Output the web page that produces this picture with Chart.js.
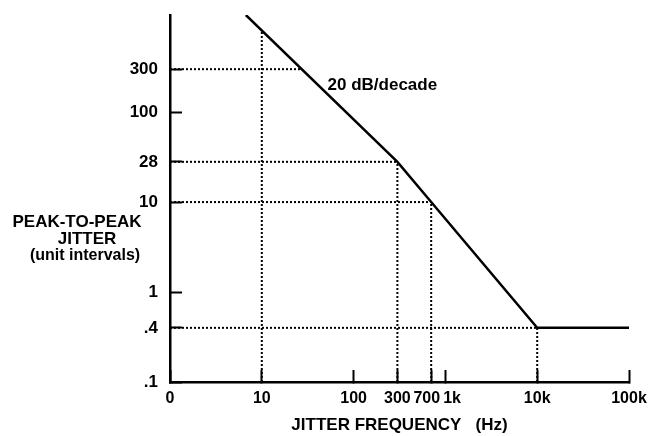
<!DOCTYPE html>
<html>
<head>
<meta charset="utf-8">
<title>Jitter tolerance</title>
<script src="https://cdn.jsdelivr.net/npm/chart.js@4.4.1/dist/chart.umd.min.js"></script>
<style>
  html, body { margin: 0; padding: 0; background: #fff; }
  #wrap { width: 654px; height: 436px; }
</style>
</head>
<body>
<div id="wrap"><canvas id="jitterChart" width="654" height="436"></canvas></div>
<script>
// axis ticks
const xTickValues = [1, 10, 100, 300, 700, 1000, 10000, 100000];
const xTickLabels = ['0', '10', '100', '300', '700  ', '   1k', '10k', '100k'];
const yTickValues = [0.1, 0.4, 1, 10, 28, 100, 300];
const yTickLabels = ['.1', '.4', '1', '10', '28', '100', '300'];

// tolerance mask (Hz, UI p-p)
const maskFreq = [6.7, 300, 700, 10000, 100000];
const maskJitter = [1200, 28, 10, 0.4, 0.4];

// dotted guides: horizontal levels and where they hit the mask
const guideJitter = [300, 28, 10, 0.4];
const guideJitterEnd = [27, 300, 700, 10000];
// dotted guides: vertical frequencies and where they hit the mask
const guideFreq = [10, 300, 700, 10000];
const guideFreqTop = [800, 28, 10, 0.4];

const slopeLabel = '20 dB/decade';
const yTitle = ['PEAK-TO-PEAK', 'JITTER', '(unit intervals)'];
const xTitle = 'JITTER FREQUENCY   (Hz)';

const FONT = "'Liberation Sans', Arial, sans-serif";

const datasets = [{
    data: maskFreq.map((f, i) => ({ x: f, y: maskJitter[i] })),
    borderColor: '#000',
    borderWidth: 2.5,
    showLine: true,
    pointRadius: 0
}];

guideJitter.forEach((v, i) => {
    datasets.push({
        data: [{ x: 1, y: v }, { x: guideJitterEnd[i], y: v }],
        borderColor: '#000',
        borderWidth: 2,
        borderDash: [2, 2],
        showLine: true,
        pointRadius: 0
    });
});
guideFreq.forEach((f, i) => {
    datasets.push({
        data: [{ x: f, y: 0.1 }, { x: f, y: guideFreqTop[i] }],
        borderColor: '#000',
        borderWidth: 2,
        borderDash: [2, 2],
        showLine: true,
        pointRadius: 0
    });
});

const extraText = {
    id: 'extraText',
    afterDraw(chart) {
        const c = chart.ctx;
        const xs = chart.scales.x, ys = chart.scales.y;
        c.save();
        c.fillStyle = '#000';
        c.textBaseline = 'middle';
        c.textAlign = 'center';
        c.font = 'bold 17px ' + FONT;
        c.fillText(yTitle[0], 77, 222);
        c.fillText(yTitle[1], 87, 239);
        c.font = 'bold 16px ' + FONT;
        c.fillText(yTitle[2], 85, 256);
        c.textAlign = 'left';
        c.font = 'bold 17px ' + FONT;
        c.fillText(slopeLabel, xs.getPixelForValue(52), ys.getPixelForValue(200));
        c.restore();
    }
};

const config = {
    type: 'scatter',
    data: { datasets: datasets },
    options: {
        responsive: false,
        animation: false,
        layout: { padding: { top: 15, right: 25, left: 0, bottom: 0 } },
        scales: {
            x: {
                type: 'logarithmic',
                position: 'bottom',
                min: 1,
                max: 100000,
                afterBuildTicks: (scale) => {
                    scale.ticks = xTickValues.map(v => ({ value: v }));
                },
                afterFit: (scale) => {
                    scale.height = 54;
                    scale.paddingLeft = 0;
                    scale.paddingRight = 0;
                },
                border: { display: true, color: '#000', width: 2.5 },
                grid: {
                    display: true,
                    drawOnChartArea: false,
                    drawTicks: true,
                    tickLength: -12,
                    tickColor: '#000',
                    tickWidth: 2
                },
                ticks: {
                    autoSkip: false,
                    maxRotation: 0,
                    color: '#000',
                    padding: 19,
                    font: { family: FONT, size: 16, weight: 'bold' },
                    callback: (value, index) => xTickLabels[index]
                },
                title: {
                    display: true,
                    text: xTitle,
                    color: '#000',
                    font: { family: FONT, size: 17, weight: 'bold' },
                    padding: { top: 0, bottom: 0 }
                }
            },
            y: {
                type: 'logarithmic',
                position: 'left',
                min: 0.1,
                max: 1200,
                afterBuildTicks: (scale) => {
                    scale.ticks = yTickValues.map(v => ({ value: v }));
                },
                afterFit: (scale) => {
                    scale.width = 170;
                    scale.paddingTop = 0;
                    scale.paddingBottom = 0;
                },
                border: { display: true, color: '#000', width: 2.5 },
                grid: {
                    display: true,
                    drawOnChartArea: false,
                    drawTicks: true,
                    tickLength: -12,
                    tickColor: '#000',
                    tickWidth: 2
                },
                ticks: {
                    autoSkip: false,
                    color: '#000',
                    padding: 24,
                    font: { family: FONT, size: 17, weight: 'bold' },
                    callback: (value, index) => yTickLabels[index]
                }
            }
        },
        plugins: {
            legend: { display: false },
            tooltip: { enabled: false }
        }
    },
    plugins: [extraText]
};

const jitterChart = new Chart(document.getElementById('jitterChart'), config);
</script>
</body>
</html>
